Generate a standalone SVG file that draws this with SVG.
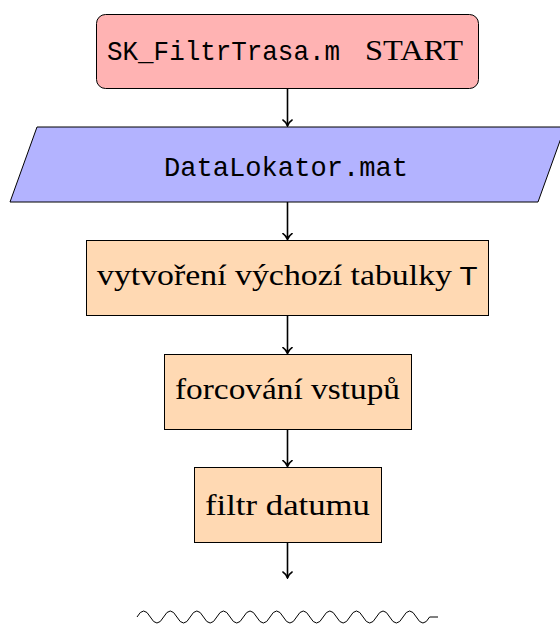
<svg xmlns="http://www.w3.org/2000/svg" width="560" height="626" viewBox="0 0 560 626">
  <defs>
    <marker id="tip" viewBox="-7 -6 8 12" markerWidth="8" markerHeight="12" refX="0" refY="0" orient="auto" markerUnits="userSpaceOnUse">
      <path d="M-6,-4.6 C-4.6,-2.2 -1.6,-0.6 0,0 C-1.6,0.6 -4.6,2.2 -6,4.6" fill="none" stroke="#000" stroke-width="1.5" stroke-linecap="round"/>
    </marker>
    <style>
      .node { stroke: #000; stroke-width: 1; }
      .start { fill: #FFB3B3; }
      .io { fill: #B3B3FF; }
      .step { fill: #FFD9B3; }
      .rm { font-family: "Liberation Serif", "DejaVu Serif", serif; font-size: 30px; fill: #000; }
      .tt { font-family: "Liberation Mono", "DejaVu Sans Mono", monospace; font-size: 28px; fill: #000; }
      .edge { stroke: #000; stroke-width: 1.6; fill: none; marker-end: url(#tip); }
      .snake { stroke: #000; stroke-width: 1; fill: none; }
    </style>
  </defs>

  <g id="start">
    <rect class="node start" x="96.5" y="14.5" width="382" height="74" rx="9" ry="9"/>
    <text class="tt" x="107" y="60" textLength="233" lengthAdjust="spacingAndGlyphs">SK_FiltrTrasa.m</text>
    <text class="rm" x="365" y="60" textLength="98" lengthAdjust="spacingAndGlyphs">START</text>
  </g>

  <g id="data">
    <polygon class="node io" points="37,127 565,127 538,202 10,202"/>
    <text class="tt" x="164" y="176" textLength="244" lengthAdjust="spacingAndGlyphs">DataLokator.mat</text>
  </g>

  <g id="tabulka">
    <rect class="node step" x="86.5" y="240.5" width="402" height="75"/>
    <text class="rm" x="97" y="285" textLength="355" lengthAdjust="spacingAndGlyphs">vytvoření výchozí tabulky</text>
    <text class="tt" x="459" y="285" textLength="19" lengthAdjust="spacingAndGlyphs">T</text>
  </g>

  <g id="forcovani">
    <rect class="node step" x="164.5" y="354.5" width="247" height="75"/>
    <text class="rm" x="175" y="399" textLength="225" lengthAdjust="spacingAndGlyphs">forcování vstupů</text>
  </g>

  <g id="filtr">
    <rect class="node step" x="194.5" y="467.5" width="187" height="75"/>
    <text class="rm" x="205" y="515" textLength="165" lengthAdjust="spacingAndGlyphs">filtr datumu</text>
  </g>

  <g id="connectors">
    <line class="edge" x1="287.5" y1="89" x2="287.5" y2="126"/>
    <line class="edge" x1="287.5" y1="202" x2="287.5" y2="239.5"/>
    <line class="edge" x1="287.5" y1="316" x2="287.5" y2="353.5"/>
    <line class="edge" x1="287.5" y1="430" x2="287.5" y2="466.5"/>
    <line class="edge" x1="287.5" y1="543" x2="287.5" y2="578"/>
  </g>

  <!-- wavy continuation mark -->
  <path class="snake" d="M137,617 Q143.65,605 150.3,617 T163.6,617 T176.9,617 T190.2,617 T203.5,617 T216.8,617 T230.1,617 T243.4,617 T256.7,617 T270,617 T283.3,617 T296.6,617 T309.9,617 T323.2,617 T336.5,617 T349.8,617 T363.1,617 T376.4,617 T389.7,617 T403,617 T416.3,617 T429.6,617 L438,617"/>
</svg>
